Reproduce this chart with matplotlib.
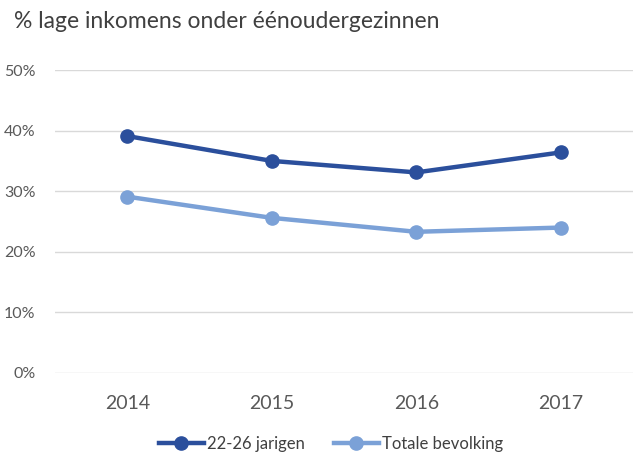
import numpy as np
import matplotlib.pyplot as plt

plt.rcParams['font.family'] = ['Lato', 'DejaVu Sans']

# data
jaren = ['2014', '2015', '2016', '2017']
jongeren = [39.1, 35.0, 33.1, 36.4]
totaal = [29.1, 25.6, 23.3, 24.0]
yticks = [0, 10, 20, 30, 40, 50]

fig = plt.figure(figsize=(6.33, 4.54), dpi=100)
ax = fig.add_axes([55 / 633, 1 - 373 / 454, 1 - 55 / 633, 303 / 454])

x = np.arange(len(jaren))
ax.plot(x, jongeren, color='#2B4F9C', lw=3.2, marker='o', ms=9.5, label='22-26 jarigen')
ax.plot(x, totaal, color='#7BA1D7', lw=3.2, marker='o', ms=9.5, label='Totale bevolking')

ax.set_xlim(-0.5, len(jaren) - 0.5)
ax.set_ylim(0, 50)
ax.set_yticks(yticks)
ax.set_yticklabels([f'{v}%' for v in yticks], color='#595959', fontsize=11.5)
ax.set_xticks(x)
ax.set_xticklabels(jaren, color='#595959', fontsize=14)
ax.tick_params(length=0)
ax.tick_params(axis='x', pad=16)
ax.tick_params(axis='y', pad=14)
ax.grid(axis='y', color='#D9D9D9', lw=1)
ax.set_axisbelow(True)
for s in ax.spines.values():
    s.set_visible(False)

fig.text(14 / 633, 1 - 22 / 454, '% lage inkomens onder éénoudergezinnen',
         fontsize=16.5, color='#404040', va='center', ha='left')

fig.legend(loc='center', bbox_to_anchor=(331 / 633, 1 - 444 / 454), ncol=2, frameon=False,
           fontsize=12, handlelength=2.7, columnspacing=1.7, handletextpad=0.2,
           labelcolor='#404040')

fig.savefig('out.png', dpi=100)
